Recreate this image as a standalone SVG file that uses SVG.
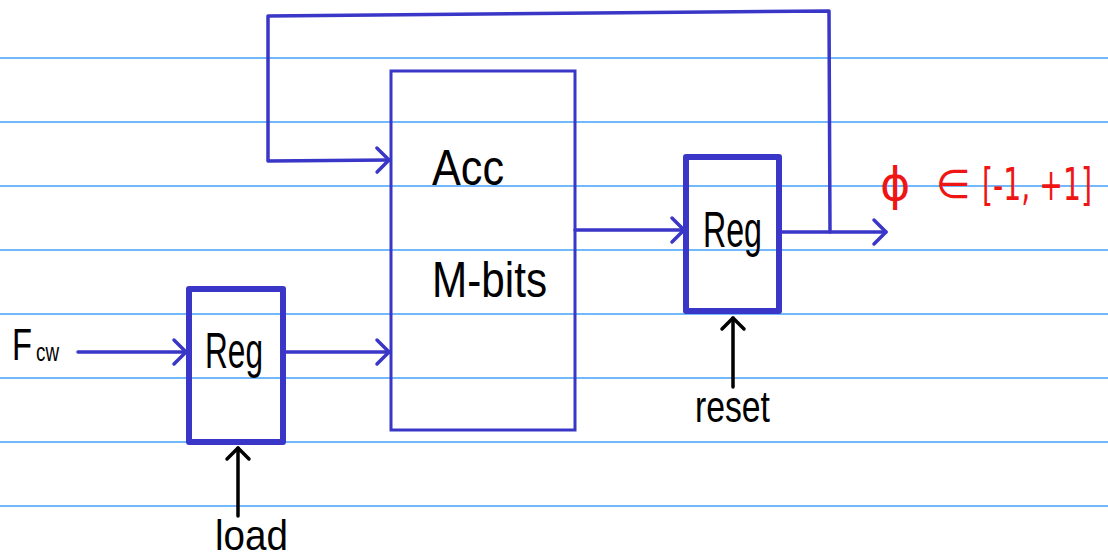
<svg xmlns="http://www.w3.org/2000/svg" width="1108" height="557" viewBox="0 0 1108 557">
<style>
.rule{stroke:#42a0ff;stroke-width:1.5}
.wire{stroke:#3a36c8;stroke-width:3.5;fill:none;stroke-linecap:round;stroke-linejoin:round}
.thin{stroke:#3a36c8;stroke-width:3;fill:none}
.thick{stroke:#3a36c8;stroke-width:6;fill:none;stroke-linejoin:round}
.ctl{stroke:#000;stroke-width:3.5;fill:none;stroke-linecap:round}
.hw{font-family:"Liberation Sans","DejaVu Sans",sans-serif;fill:#000}
.red{font-family:"DejaVu Sans","Liberation Sans",sans-serif;fill:#f01515}
</style>
<defs>
<marker id="ab" markerUnits="userSpaceOnUse" markerWidth="30" markerHeight="30" refX="15" refY="15" orient="auto" overflow="visible">
<path d="M3,3 L15,15 L3,27" fill="none" stroke="#3a36c8" stroke-width="3.5" stroke-linecap="round" stroke-linejoin="round"/>
</marker>
<marker id="ak" markerUnits="userSpaceOnUse" markerWidth="30" markerHeight="30" refX="15" refY="15" orient="auto" overflow="visible">
<path d="M4,4 L15,15 L4,26" fill="none" stroke="#000" stroke-width="3.5" stroke-linecap="round" stroke-linejoin="round"/>
</marker>
</defs>
<rect width="1108" height="557" fill="#fff"/>
<g id="rules">
<line class="rule" x1="0" y1="58" x2="1108" y2="58"/>
<line class="rule" x1="0" y1="122" x2="1108" y2="122"/>
<line class="rule" x1="0" y1="186" x2="1108" y2="186"/>
<line class="rule" x1="0" y1="250" x2="1108" y2="250"/>
<line class="rule" x1="0" y1="314" x2="1108" y2="314"/>
<line class="rule" x1="0" y1="378" x2="1108" y2="378"/>
<line class="rule" x1="0" y1="442" x2="1108" y2="442"/>
<line class="rule" x1="0" y1="506" x2="1108" y2="506"/>
</g>
<g id="connectors">
<path class="wire" d="M78,352 L186,352" marker-end="url(#ab)"/>
<path class="wire" d="M283,352 L389,352" marker-end="url(#ab)"/>
<path class="wire" d="M575,230 L684,230" marker-end="url(#ab)"/>
<path class="wire" d="M779,232 L886,232" marker-end="url(#ab)"/>
<path class="wire" d="M830,232 L829,11 L268,16 L268,161 L389,160" marker-end="url(#ab)"/>
<path class="ctl" d="M238,516 L238,448" marker-end="url(#ak)"/>
<path class="ctl" d="M733,387 L733,318" marker-end="url(#ak)"/>
</g>
<g id="reg1">
<rect class="thick" x="189" y="289" width="94" height="153"/>
<text class="hw" x="205" y="368" font-size="50" textLength="58" lengthAdjust="spacingAndGlyphs">Reg</text>
</g>
<g id="acc">
<rect class="thin" x="391" y="71" width="184" height="359"/>
<text class="hw" x="432" y="185" font-size="50" textLength="72" lengthAdjust="spacingAndGlyphs">Acc</text>
<text class="hw" x="432" y="297" font-size="50" textLength="115" lengthAdjust="spacingAndGlyphs">M-bits</text>
</g>
<g id="reg2">
<rect class="thick" x="686" y="157" width="93" height="154"/>
<text class="hw" x="703" y="247" font-size="50" textLength="59" lengthAdjust="spacingAndGlyphs">Reg</text>
</g>
<g id="labels">
<text class="hw" x="12" y="360" font-size="44" textLength="20" lengthAdjust="spacingAndGlyphs">F</text>
<text class="hw" x="36" y="361" font-size="26" textLength="23" lengthAdjust="spacingAndGlyphs">cw</text>
<text class="hw" x="215" y="550" font-size="42" textLength="73" lengthAdjust="spacingAndGlyphs">load</text>
<text class="hw" x="695" y="422" font-size="44" textLength="75" lengthAdjust="spacingAndGlyphs">reset</text>
<text class="red" x="880" y="200" font-size="46">ϕ</text>
<text class="red" x="936" y="198" font-size="40">∈</text>
<text class="red" x="982" y="200" font-size="44" textLength="110" lengthAdjust="spacingAndGlyphs">[-1, +1]</text>
</g>
</svg>
